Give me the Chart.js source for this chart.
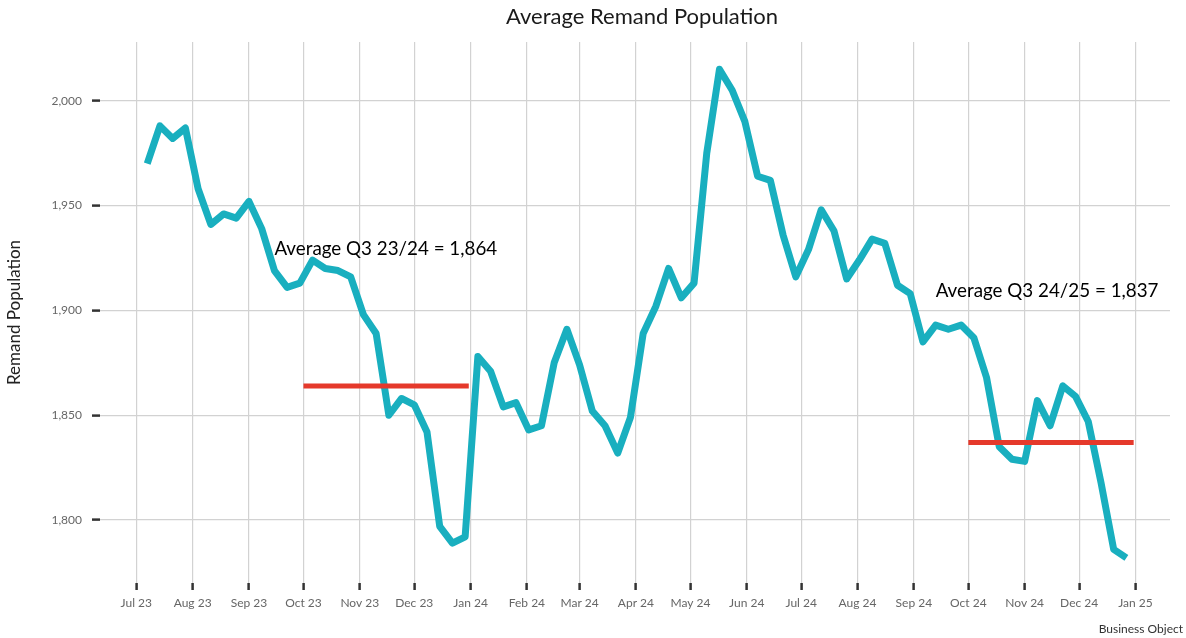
<!DOCTYPE html>
<html>
<head>
<meta charset="utf-8">
<title>Average Remand Population</title>
<script src="https://cdn.jsdelivr.net/npm/chart.js@4.4.1/dist/chart.umd.min.js"></script>
<style>
  html, body { margin: 0; padding: 0; background: #fff; }
  #wrap { width: 1186px; height: 638px; }
</style>
</head>
<body>
<div id="wrap"><canvas id="myChart" width="1186" height="638"></canvas></div>
<script>
// weekly snapshots, first one on a Friday
let firstWeek = '2023-07-07';

let remand = [
  1970, 1988, 1982, 1987, 1958, 1941, 1946, 1944, 1952, 1939,
  1919, 1911, 1913, 1924, 1920, 1919, 1916, 1898, 1889, 1850,
  1858, 1855, 1842, 1797, 1789, 1792, 1878, 1871, 1854, 1856,
  1843, 1845, 1875, 1891, 1874, 1852, 1845, 1832, 1849, 1889,
  1902, 1920, 1906, 1913, 1975, 2015, 2005, 1990, 1964, 1962,
  1936, 1916, 1929, 1948, 1938, 1915, 1924, 1934, 1932, 1912,
  1908, 1885, 1893, 1891, 1893, 1887, 1868, 1835, 1829, 1828,
  1857, 1845, 1864, 1859, 1847, 1818, 1786, 1782
];

// quarter averages
let avgNames = ['Average Q3 23/24 = 1,864', 'Average Q3 24/25 = 1,837'];
let avgValues = [1864, 1837];
let avgFrom = ['2023-10-01', '2024-10-01'];
let avgTo = ['2023-12-31', '2024-12-31'];
// where the labels sit (date, value)
let noteDates = ['2023-09-15', '2024-09-13'];
let noteValues = [1929.5, 1909.5];

let yTicks = [1800, 1850, 1900, 1950, 2000];
let monthTicks = [
  '2023-07-01', '2023-08-01', '2023-09-01', '2023-10-01', '2023-11-01', '2023-12-01',
  '2024-01-01', '2024-02-01', '2024-03-01', '2024-04-01', '2024-05-01', '2024-06-01',
  '2024-07-01', '2024-08-01', '2024-09-01', '2024-10-01', '2024-11-01', '2024-12-01',
  '2025-01-01'
];
let monthNames = ['Jan', 'Feb', 'Mar', 'Apr', 'May', 'Jun', 'Jul', 'Aug', 'Sep', 'Oct', 'Nov', 'Dec'];

const DAY = 86400000;
const origin = Date.parse('2023-07-01');
function dayNo(s) {
  return Math.round((Date.parse(s) - origin) / DAY);
}

let start = dayNo(firstWeek);
let points = remand.map((v, i) => ({ x: start + i * 7, y: v }));

let avgSets = avgValues.map((v, i) => ({
  label: avgNames[i],
  data: [{ x: dayNo(avgFrom[i]), y: v }, { x: dayNo(avgTo[i]), y: v }],
  borderColor: '#e5392b',
  borderWidth: 5,
  borderCapStyle: 'butt',
  pointRadius: 0,
  order: 0
}));

const textPlugin = {
  id: 'texts',
  afterDraw(chart) {
    const ctx = chart.ctx;
    const x = chart.scales.x;
    const y = chart.scales.y;
    ctx.save();
    ctx.fillStyle = '#1a1a1a';
    ctx.textBaseline = 'middle';
    ctx.textAlign = 'center';
    ctx.font = '22px Lato';
    ctx.fillText('Average Remand Population', 642, 17);

    ctx.textAlign = 'left';
    ctx.font = '18.8px Lato';
    ctx.fillStyle = '#000';
    for (let i = 0; i < avgNames.length; i++) {
      ctx.fillText(avgNames[i], x.getPixelForValue(dayNo(noteDates[i])), y.getPixelForValue(noteValues[i]));
    }

    ctx.textAlign = 'right';
    ctx.font = '12px Lato';
    ctx.fillStyle = '#333';
    ctx.fillText('Business Object', 1183, 629);
    ctx.restore();
  }
};

let ctx = document.getElementById('myChart').getContext('2d');
let chart = new Chart(ctx, {
  type: 'line',
  data: {
    datasets: [{
      label: 'Remand Population',
      data: points,
      borderColor: '#19afbf',
      borderWidth: 7,
      borderJoinStyle: 'round',
      pointRadius: 0,
      tension: 0,
      order: 1
    }].concat(avgSets)
  },
  options: {
    responsive: false,
    animation: false,
    layout: { padding: { top: 42, right: 16, left: 0, bottom: 0 } },
    plugins: {
      legend: { display: false },
      tooltip: { enabled: false },
      title: { display: false }
    },
    scales: {
      x: {
        type: 'linear',
        min: -20,
        max: 569,
        afterBuildTicks: (scale) => {
          scale.ticks = monthTicks.map(m => ({ value: dayNo(m) }));
        },
        afterFit: (scale) => { scale.height = 55; },
        ticks: {
          autoSkip: false,
          maxRotation: 0,
          padding: 6,
          color: '#666',
          font: { family: 'Lato', size: 12 },
          callback: (v) => {
            let d = new Date(origin + v * DAY);
            return monthNames[d.getUTCMonth()] + ' ' + String(d.getUTCFullYear()).slice(2);
          }
        },
        grid: {
          color: '#d2d2d2',
          lineWidth: 1.2,
          tickColor: '#333',
          tickLength: 7,
          tickWidth: 2.5
        },
        border: { display: false }
      },
      y: {
        min: 1770,
        max: 2028,
        afterBuildTicks: (scale) => {
          scale.ticks = yTicks.map(v => ({ value: v }));
        },
        afterFit: (scale) => { scale.width = 100; },
        title: {
          display: true,
          text: 'Remand Population',
          color: '#222',
          font: { family: 'Lato', size: 17 },
          padding: { top: 4, bottom: 0 }
        },
        ticks: {
          padding: 10,
          color: '#666',
          font: { family: 'Lato', size: 12 },
          callback: (v) => v.toLocaleString('en-US')
        },
        grid: {
          color: '#d2d2d2',
          lineWidth: 1.2,
          tickColor: '#333',
          tickLength: 8,
          tickWidth: 2.5
        },
        border: { display: false }
      }
    }
  },
  plugins: [textPlugin]
});
</script>
</body>
</html>
